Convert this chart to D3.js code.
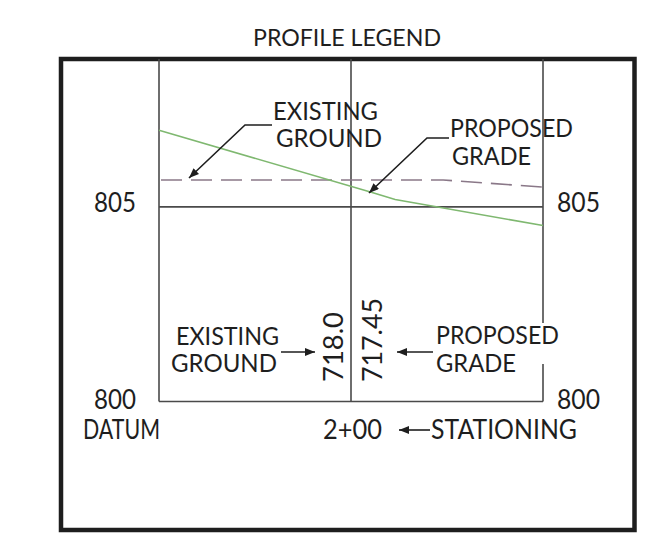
<!DOCTYPE html>
<html><head><meta charset="utf-8">
<script src="https://cdn.jsdelivr.net/npm/d3@7"></script>
<style>html,body{margin:0;padding:0;background:#fff;}svg{display:block;}</style>
</head><body>
<script>
// ---- data ----
const title = "PROFILE LEGEND";
const gridStations = [150, 200, 250];          // stations of vertical grid lines
const stationLabels = ["", "2+00", ""];
const elevTicks = [800, 805];                  // horizontal grid lines / elevation labels
const elevLabelsLeft = ["800", "805"];
const elevLabelsRight = ["800", "805"];
const existingStations = [150, 224, 250];      // existing ground (dashed)
const existingElev = [805.69, 805.69, 805.51];
const proposedStations = [150, 205.5, 211.5, 250]; // proposed grade (green)
const proposedElev = [806.97, 805.37, 805.19, 804.52];
const existingValue = "718.0";
const proposedValue = "717.45";
const labelExisting = ["EXISTING", "GROUND"];
const labelProposed = ["PROPOSED", "GRADE"];
const datumLabel = "DATUM";
const stationingLabel = "STATIONING";

const W = 658, H = 549;
const svg = d3.select("body").append("svg").attr("width", W).attr("height", H);
const FONT = "Lato, 'Liberation Sans', sans-serif";
const INK = "#1e1e1e", GRID = "#4a4a4a", GREEN = "#7fb870", DASH = "#8a7888";

const x = d3.scaleLinear().domain([150, 250]).range([159, 543]);
const y = d3.scaleLinear().domain([800, 808.8]).range([401.5, 59]);

svg.append("defs").append("marker")
  .attr("id", "ah").attr("viewBox", "0 0 10 8").attr("refX", 10).attr("refY", 4)
  .attr("markerWidth", 11).attr("markerHeight", 8).attr("markerUnits", "userSpaceOnUse")
  .attr("orient", "auto")
  .append("path").attr("d", "M0,0 L10,4 L0,8 Z").attr("fill", INK);

function txt(xx, yy, s, w, size, opts = {}) {
  const t = svg.append("text").attr("x", xx).attr("y", yy).text(s)
    .attr("font-family", FONT).attr("font-size", size).attr("fill", INK);
  if (w) t.attr("textLength", w).attr("lengthAdjust", "spacingAndGlyphs");
  if (opts.transform) t.attr("transform", opts.transform);
  return t;
}

// title
txt(253, 46, title, 188, 23);

// outer frame
svg.append("rect").attr("x", 61).attr("y", 59).attr("width", 573.5).attr("height", 471)
  .attr("fill", "none").attr("stroke", INK).attr("stroke-width", 4.5);

// vertical grid lines
svg.selectAll("line.v").data(gridStations).enter().append("line")
  .attr("x1", d => x(d)).attr("x2", d => x(d))
  .attr("y1", y.range()[1]).attr("y2", y(800))
  .attr("stroke", GRID).attr("stroke-width", 1.6);
// horizontal grid lines
svg.selectAll("line.h").data(elevTicks).enter().append("line")
  .attr("x1", x(150)).attr("x2", x(250))
  .attr("y1", d => y(d)).attr("y2", d => y(d))
  .attr("stroke", GRID).attr("stroke-width", 1.6);

// existing ground (dashed)
const line = d3.line().x(d => x(d[0])).y(d => y(d[1]));
svg.append("path").datum(existingStations.map((s, i) => [s, existingElev[i]]))
  .attr("d", line).attr("fill", "none").attr("stroke", DASH)
  .attr("stroke-width", 1.6).attr("stroke-dasharray", "21 9").attr("stroke-dashoffset", -2);
// proposed grade (green)
svg.append("path").datum(proposedStations.map((s, i) => [s, proposedElev[i]]))
  .attr("d", line).attr("fill", "none").attr("stroke", GREEN).attr("stroke-width", 1.6);

// elevation labels
elevTicks.forEach((e, i) => {
  const base = y(e) + (e === 800 ? 7.5 : 5);
  txt(94, base, elevLabelsLeft[i], 42, 26);
  txt(557, base, elevLabelsRight[i], 43, 26);
});
txt(83, 439, datumLabel, 77, 26);

// station label
gridStations.forEach((s, i) => {
  if (stationLabels[i]) txt(x(s) - 28, 439, stationLabels[i], 59, 26);
});
txt(431, 439, stationingLabel, 146, 26);
svg.append("line").attr("x1", 430).attr("x2", 399).attr("y1", 430).attr("y2", 430)
  .attr("stroke", INK).attr("stroke-width", 1.6).attr("marker-end", "url(#ah)");

// upper callouts
txt(273, 120, labelExisting[0], 105, 25);
txt(276, 147, labelExisting[1], 106, 25);
svg.append("polyline").attr("points", "272,125 245,125 189,178")
  .attr("fill", "none").attr("stroke", INK).attr("stroke-width", 1.6).attr("marker-end", "url(#ah)");
txt(450, 137, labelProposed[0], 123, 25);
txt(452, 165, labelProposed[1], 79, 25);
svg.append("polyline").attr("points", "449,138 427,138 369,193")
  .attr("fill", "none").attr("stroke", INK).attr("stroke-width", 1.6).attr("marker-end", "url(#ah)");

// lower callouts
txt(176, 345, labelExisting[0], 103, 25);
txt(171, 372, labelExisting[1], 106, 25);
svg.append("line").attr("x1", 281).attr("x2", 315).attr("y1", 352).attr("y2", 352)
  .attr("stroke", INK).attr("stroke-width", 1.6).attr("marker-end", "url(#ah)");
// knock-out gap in right grid line behind the lower proposed label
svg.append("rect").attr("x", x(250) - 3).attr("y", 323).attr("width", 6).attr("height", 41).attr("fill", "#fff");
txt(436, 344, labelProposed[0], 123, 25);
txt(436, 372, labelProposed[1], 80, 25);
svg.append("line").attr("x1", 433).attr("x2", 397).attr("y1", 352).attr("y2", 352)
  .attr("stroke", INK).attr("stroke-width", 1.6).attr("marker-end", "url(#ah)");

// rotated values
txt(0, 0, existingValue, 70, 26, {transform: "translate(343,382) rotate(-90)"});
txt(0, 0, proposedValue, 84, 26, {transform: "translate(382,382) rotate(-90)"});
</script>
</body></html>
